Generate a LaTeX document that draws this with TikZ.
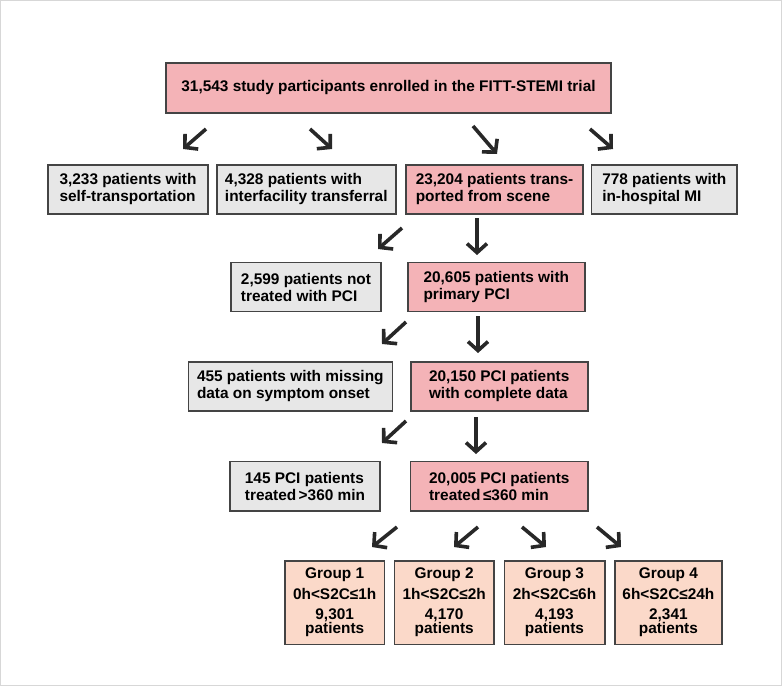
\documentclass[tikz,border=0pt]{standalone}
\usepackage{fontspec}
\setmainfont{Liberation Sans}
\usetikzlibrary{arrows.meta}
\definecolor{pinkf}{RGB}{244,179,183}
\definecolor{grayf}{RGB}{231,231,231}
\definecolor{peachf}{RGB}{251,217,201}
\definecolor{edgec}{RGB}{68,68,68}
\definecolor{arrowc}{RGB}{40,40,40}
\definecolor{framec}{RGB}{215,215,215}
\begin{document}
\begin{tikzpicture}[x=1pt,y=-1pt,
  box/.style={draw=edgec, line width=1.6pt, inner sep=0pt, align=left,
    font=\bfseries\fontsize{15.4}{17}\selectfont},
  pbox/.style={box, fill=pinkf},
  gbox/.style={box, fill=grayf},
  grp/.style={box, fill=peachf, align=center, minimum height=83.6pt},
  arr/.style={draw=arrowc, line width=3.6pt, -{Straight Barb[length=9pt,width=20pt]}}]
\useasboundingbox (0,0) rectangle (784,688);
\draw[framec, line width=1pt] (0.5,0.5) rectangle (781.5,685.5);

% boxes
\node[pbox, minimum width=445pt, minimum height=50pt] (top) at (388.5,88)
  {31,543 study participants enrolled in the FITT-STEMI trial};

\node[gbox, minimum width=160pt, minimum height=49pt] (selft) at (128,189.5)
  {3,233 patients with\\self-transportation};
\node[gbox, minimum width=179pt, minimum height=49pt] (inter) at (306.3,189.5)
  {4,328 patients with\\interfacility transferral};
\node[pbox, minimum width=177pt, minimum height=49pt] (scene) at (494.5,189.5)
  {23,204 patients trans-\\ported from scene};
\node[gbox, minimum width=145.5pt, minimum height=49pt] (inhosp) at (664.3,189.5)
  {778 patients with\\in-hospital MI};

\node[gbox, minimum width=150pt, minimum height=49pt] (nopci) at (306,287)
  {2,599 patients not\\treated with PCI};
\node[pbox, minimum width=177pt, minimum height=49pt] (ppci) at (496.3,287)
  {20,605 patients with\\primary PCI};

\node[gbox, minimum width=204pt, minimum height=48.5pt] (missing) at (290.3,386.5)
  {455 patients with missing\\data on symptom onset};
\node[pbox, minimum width=177pt, minimum height=48.5pt] (complete) at (499.2,386.5)
  {20,150 PCI patients\\with complete data};

\node[gbox, minimum width=150pt, minimum height=49.3pt] (late) at (305,486.3)
  {145 PCI patients\\treated\hspace{2.5pt}>360 min};
\node[pbox, minimum width=177.3pt, minimum height=49.3pt] (early) at (499.3,486.3)
  {20,005 PCI patients\\treated\,≤360 min};

\node[grp, minimum width=99.3pt] (g1) at (334.7,602.5)
  {Group 1\\[4pt]0h<S2C≤1h\\[3pt]9,301\\[-3pt]patients};
\node[grp, minimum width=99.7pt] (g2) at (444.2,602.5)
  {Group 2\\[4pt]1h<S2C≤2h\\[3pt]4,170\\[-3pt]patients};
\node[grp, minimum width=100.4pt] (g3) at (554.5,602.5)
  {Group 3\\[4pt]2h<S2C≤6h\\[3pt]4,193\\[-3pt]patients};
\node[grp, minimum width=106.7pt] (g4) at (668.4,602.5)
  {Group 4\\[4pt]6h<S2C≤24h\\[3pt]2,341\\[-3pt]patients};

% arrow end points
\coordinate (a1s) at (206,129); \coordinate (a1e) at (183,149);
\coordinate (a2s) at (310,129); \coordinate (a2e) at (332,149);
\coordinate (a3s) at (473,126); \coordinate (a3e) at (497,154);
\coordinate (a4s) at (590,129); \coordinate (a4e) at (613,149);

\coordinate (b1s) at (402,228); \coordinate (b1e) at (378,249);
\coordinate (b2s) at (477,218); \coordinate (b2e) at (477,255);

\coordinate (c1s) at (406,322); \coordinate (c1e) at (382,344);
\coordinate (c2s) at (478,316); \coordinate (c2e) at (478,353);

\coordinate (d1s) at (406,421); \coordinate (d1e) at (382,443);
\coordinate (d2s) at (476,417); \coordinate (d2e) at (476,454);

\coordinate (e1s) at (397,527); \coordinate (e1e) at (372,547);
\coordinate (e2s) at (478,527); \coordinate (e2e) at (454,547);
\coordinate (e3s) at (522,527); \coordinate (e3e) at (546,547);
\coordinate (e4s) at (597,527); \coordinate (e4e) at (621,547);

\foreach \p in {a1,a2,a3,a4,b1,b2,c1,c2,d1,d2,e1,e2,e3,e4}
  \draw[arr] (\p s) -- (\p e);
\end{tikzpicture}
\end{document}
